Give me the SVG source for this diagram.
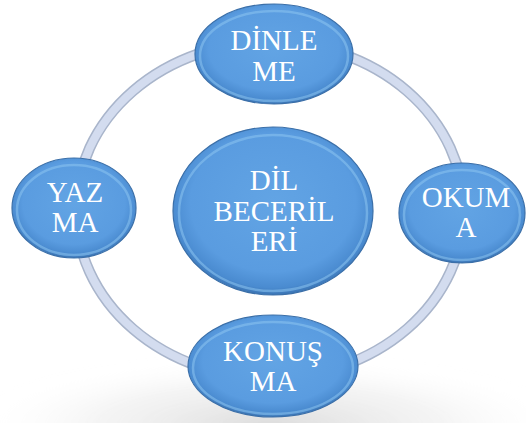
<svg xmlns="http://www.w3.org/2000/svg" width="526" height="423" viewBox="0 0 526 423">
<defs>
<radialGradient id="fillG" cx="50%" cy="45%" r="55%">
<stop offset="0" stop-color="#62a4e4"/>
<stop offset="0.75" stop-color="#5a9ce0"/>
<stop offset="0.92" stop-color="#4a8bd0"/>
<stop offset="1" stop-color="#3a74b4"/>
</radialGradient>
<radialGradient id="shadowG" cx="50%" cy="50%" r="50%">
<stop offset="0" stop-color="#a8a8a8" stop-opacity="0.4"/>
<stop offset="0.6" stop-color="#cfcfcf" stop-opacity="0.2"/>
<stop offset="1" stop-color="#ffffff" stop-opacity="0"/>
</radialGradient>
<filter id="blur" x="-20%" y="-20%" width="140%" height="140%"><feGaussianBlur stdDeviation="3"/></filter>
</defs>
<style>
.node{fill:url(#fillG);stroke:#3b6fa8;stroke-width:1.2}
.rim{fill:none;stroke:#8cc4f0;stroke-width:2.5;opacity:0.55}
.lbl{font-family:"Liberation Serif","Times New Roman",serif;font-size:29px;fill:#ffffff;text-anchor:middle}
.ringO{fill:none;stroke:#a9b5cb;stroke-width:11}
.ringI{fill:none;stroke:#d3dcef;stroke-width:8}
</style>
<rect width="526" height="423" fill="#ffffff"/>
<ellipse cx="270" cy="425" rx="300" ry="70" fill="url(#shadowG)" filter="url(#blur)"/>
<g id="connectors">
<ellipse class="ringO" cx="270" cy="210" rx="194" ry="168"/>
<ellipse class="ringI" cx="270" cy="210" rx="194" ry="168"/>
</g>
<g id="center">
<ellipse class="node" cx="273" cy="211" rx="100" ry="84"/>
<ellipse class="rim" cx="273" cy="213" rx="94" ry="78"/>
<text class="lbl" x="274" y="190">DİL</text>
<text class="lbl" x="274" y="221">BECERİL</text>
<text class="lbl" x="274" y="251">ERİ</text>
</g>
<g id="dinleme">
<ellipse class="node" cx="274" cy="54" rx="79" ry="50"/>
<ellipse class="rim" cx="274" cy="56" rx="74" ry="45"/>
<text class="lbl" x="274" y="50">DİNLE</text>
<text class="lbl" x="274" y="81">ME</text>
</g>
<g id="yazma">
<ellipse class="node" cx="74" cy="208" rx="62" ry="50"/>
<ellipse class="rim" cx="74" cy="210" rx="57" ry="45"/>
<text class="lbl" x="75" y="202">YAZ</text>
<text class="lbl" x="75" y="232">MA</text>
</g>
<g id="okuma">
<ellipse class="node" cx="462" cy="213" rx="63" ry="50"/>
<ellipse class="rim" cx="462" cy="215" rx="58" ry="45"/>
<text class="lbl" x="466" y="207">OKUM</text>
<text class="lbl" x="466" y="237">A</text>
</g>
<g id="konusma">
<ellipse class="node" cx="273" cy="366" rx="85" ry="51"/>
<ellipse class="rim" cx="273" cy="368" rx="80" ry="46"/>
<text class="lbl" x="273" y="361">KONUŞ</text>
<text class="lbl" x="273" y="391">MA</text>
</g>
</svg>
